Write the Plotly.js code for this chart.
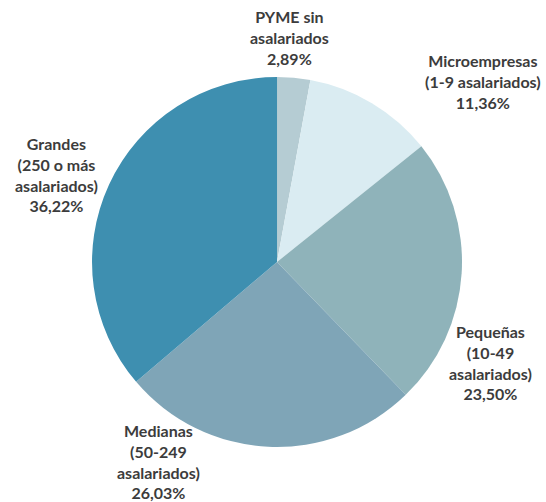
<!DOCTYPE html>
<html>
<head>
<meta charset="utf-8">
<script src="https://cdn.plot.ly/plotly-3.0.1.min.js"></script>
<style>html,body{margin:0;padding:0;background:#fff;}#chart{width:546px;height:502px;}</style>
</head>
<body>
<div id="chart"></div>
<script>
const categories = ["PYME sin<br>asalariados", "Microempresas<br>(1-9 asalariados)", "Pequeñas<br>(10-49<br>asalariados)", "Medianas<br>(50-249<br>asalariados)", "Grandes<br>(250 o más<br>asalariados)"];
const shares = [2.89, 11.36, 23.50, 26.03, 36.22];
const colors = ["#b5ccd3", "#daecf2", "#8fb3ba", "#7fa5b7", "#3e8fb0"];
// label anchor positions (paper coords), one per category
const labelX = [0.531, 0.884, 0.899, 0.29, 0.1026];
const labelY = [0.9906, 0.903, 0.3631, 0.166, 0.7376];

const fmt = v => v.toFixed(2).replace('.', ',') + '%';

const trace = {
  type: 'pie',
  labels: categories,
  values: shares,
  sort: false,
  direction: 'clockwise',
  rotation: 0,
  textinfo: 'none',
  hoverinfo: 'label+percent',
  marker: {colors: colors, line: {width: 0}},
  domain: {x: [0.1685, 0.8462], y: [0.1096, 0.8466]},
  showlegend: false
};

const annotations = categories.map((c, i) => ({
  xref: 'paper', yref: 'paper',
  x: labelX[i], y: labelY[i],
  xanchor: 'center', yanchor: 'top',
  text: '<b>' + c + '<br>' + fmt(shares[i]) + '</b>',
  showarrow: false,
  align: 'center',
  font: {family: 'Lato, "Open Sans", sans-serif', size: 16, color: '#3c3c3c'}
}));

Plotly.newPlot('chart', [trace], {
  width: 546, height: 502,
  margin: {l: 0, r: 0, t: 0, b: 0},
  paper_bgcolor: '#ffffff',
  annotations: annotations
}, {displayModeBar: false, staticPlot: true});
</script>
</body>
</html>
